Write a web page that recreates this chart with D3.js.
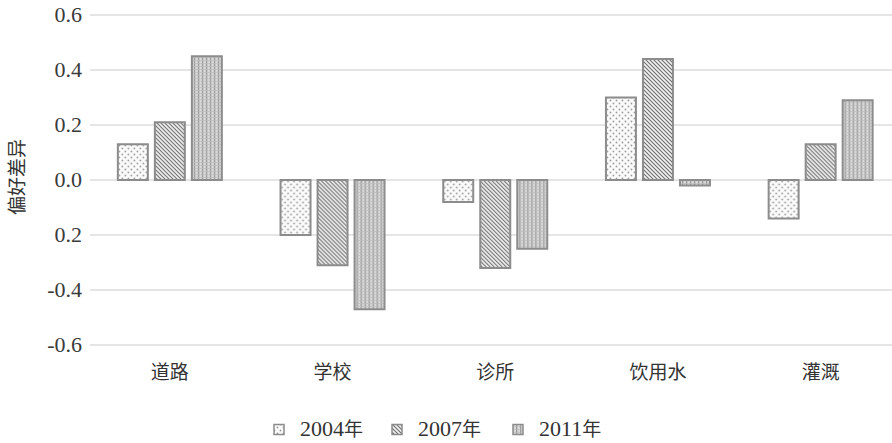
<!DOCTYPE html>
<html><head><meta charset="utf-8">
<script src="https://cdn.jsdelivr.net/npm/d3@7"></script>
<style>body{margin:0;background:#fff}svg{display:block}</style>
</head><body><svg id="c" width="892" height="443"></svg>
<script>
const categories = ["道路","学校","诊所","饮用水","灌溉"];
const seriesNames = ["2004年","2007年","2011年"];
const v2004 = [0.13,-0.20,-0.08,0.30,-0.14];
const v2007 = [0.21,-0.31,-0.32,0.44,0.13];
const v2011 = [0.45,-0.47,-0.25,-0.02,0.29];
const tickValues = [0.6,0.4,0.2,0.0,-0.2,-0.4,-0.6];
const tickLabels = ["0.6","0.4","0.2","0.0","0.2","-0.4","-0.6"];
const yLabel = "偏好差异";

const SERIF = '"Liberation Serif", "Times New Roman", serif';
const CJK = '"Noto Sans CJK SC", sans-serif';
const series = [v2004, v2007, v2011];
const svg = d3.select("#c");
const defs = svg.append("defs");
const p1 = defs.append("pattern").attr("id","pDots").attr("patternUnits","userSpaceOnUse").attr("width",6).attr("height",6);
p1.append("rect").attr("width",6).attr("height",6).attr("fill","#fbfbfb");
p1.append("circle").attr("cx",1.5).attr("cy",1.5).attr("r",0.9).attr("fill","#9a9a9a");
p1.append("circle").attr("cx",4.5).attr("cy",4.5).attr("r",0.9).attr("fill","#9a9a9a");
const p2 = defs.append("pattern").attr("id","pDiag").attr("patternUnits","userSpaceOnUse").attr("width",4).attr("height",4);
p2.append("rect").attr("width",4).attr("height",4).attr("fill","#f4f4f4");
p2.append("path").attr("d","M-1,-1 L5,5 M-1,3 L1,5 M3,-1 L5,1").attr("stroke","#6a6a6a").attr("stroke-width",1.1);
const p3 = defs.append("pattern").attr("id","pGrid").attr("patternUnits","userSpaceOnUse").attr("width",4).attr("height",3);
p3.append("rect").attr("width",4).attr("height",3).attr("fill","#d8d8d8");
p3.append("rect").attr("x",0).attr("width",1.3).attr("height",3).attr("fill","#9a9a9a");
p3.append("rect").attr("y",0).attr("width",4).attr("height",0.6).attr("fill","#bcbcbc");
const fills = ["url(#pDots)","url(#pDiag)","url(#pGrid)"];

const y = d3.scaleLinear().domain([-0.6,0.6]).range([345,15]);
const x0 = d3.scaleBand().domain(categories).range([88.5,902]);
const x1 = d3.scaleBand().domain(d3.range(3)).range([0,104]).paddingInner(0.19);

svg.append("g").selectAll("line").data(tickValues).join("line")
  .attr("x1",90).attr("x2",892).attr("y1",d=>y(d)).attr("y2",d=>y(d))
  .attr("stroke","#dcdcdc").attr("stroke-width",1.3);

svg.append("g").selectAll("text").data(tickValues).join("text")
  .attr("x",82).attr("y",d=>y(d)).attr("dy","0.33em").attr("text-anchor","end")
  .attr("font-family",SERIF).attr("font-size",22).attr("fill","#3a3a3a")
  .text((d,i)=>tickLabels[i]);

svg.append("text").attr("transform","translate(24,177) rotate(-90)")
  .attr("text-anchor","middle").attr("font-family",CJK).attr("font-size",19).attr("fill","#333").text(yLabel);

categories.forEach((c,ci)=>{
  const g = svg.append("g").attr("transform",`translate(${x0(c)+x0.bandwidth()/2-52},0)`);
  g.selectAll("rect").data(series.map((s,si)=>({si,v:s[ci]}))).join("rect")
    .attr("x",d=>x1(d.si)).attr("width",x1.bandwidth())
    .attr("y",d=>Math.min(y(d.v),y(0))).attr("height",d=>Math.abs(y(d.v)-y(0)))
    .attr("fill",d=>fills[d.si]).attr("stroke","#8c8c8c").attr("stroke-width",2);
});

svg.append("g").selectAll("text").data(categories).join("text")
  .attr("x",d=>x0(d)+x0.bandwidth()/2).attr("y",379).attr("text-anchor","middle")
  .attr("font-family",CJK).attr("font-size",19).attr("fill","#333").text(d=>d);

const legX = [274,392,513];
const lg = svg.append("g");
seriesNames.forEach((n,i)=>{
  lg.append("rect").attr("x",legX[i]).attr("y",424.5).attr("width",10).attr("height",10)
    .attr("fill",fills[i]).attr("stroke","#8c8c8c").attr("stroke-width",1.5);
  const t = lg.append("text").attr("x",legX[i]+26).attr("y",436).attr("fill","#333");
  t.append("tspan").attr("font-family",SERIF).attr("font-size",22).text(n.slice(0,4));
  t.append("tspan").attr("font-family",CJK).attr("font-size",19).text(n.slice(4));
});
</script></body></html>
